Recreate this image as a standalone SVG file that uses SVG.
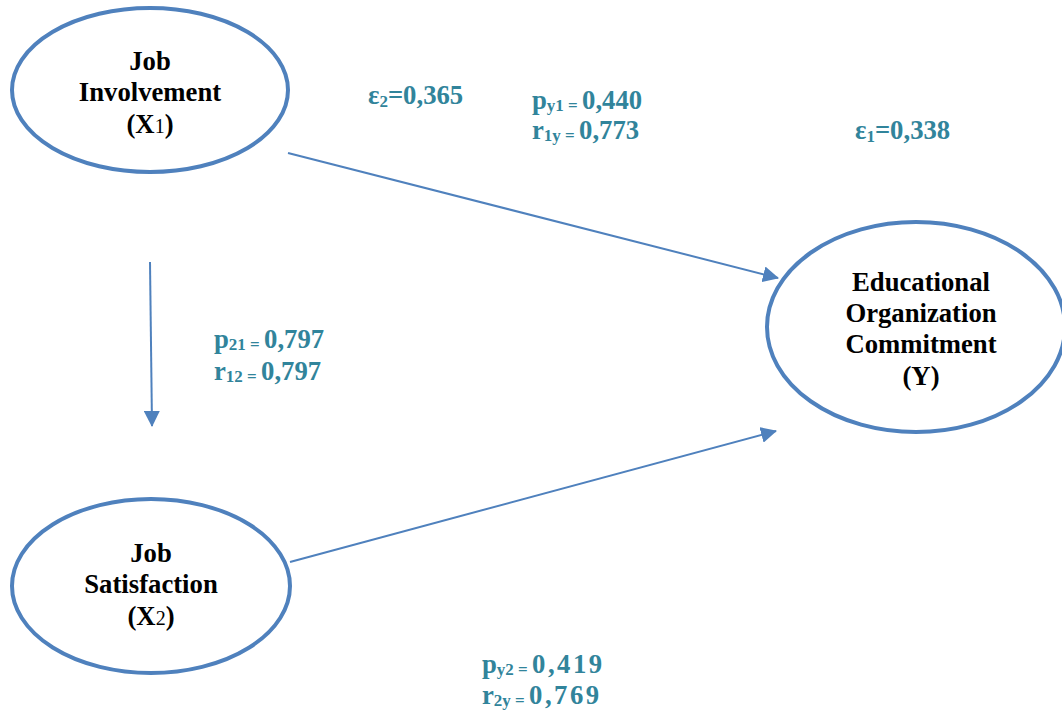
<svg xmlns="http://www.w3.org/2000/svg" width="1062" height="712" viewBox="0 0 1062 712">
<defs>
<marker id="ah" viewBox="0 0 16 16" refX="15" refY="8" markerWidth="16" markerHeight="16" markerUnits="userSpaceOnUse" orient="auto">
<path d="M0,0 L16,8 L0,16 z" fill="#4F81BD"/>
</marker>
<style>
.node{fill:#fff;stroke:#4F81BD;stroke-width:4}
.nt{font-family:"Liberation Serif",serif;font-weight:bold;font-size:26.7px;fill:#000;text-anchor:middle}
.sub{font-size:20px}
.lb{font-family:"Liberation Serif",serif;font-weight:bold;font-size:26.7px;fill:#31849B}
.ls{font-size:17px}
.wide{letter-spacing:2.5px}
.conn line{stroke:#4F81BD;stroke-width:2;marker-end:url(#ah)}
</style>
</defs>
<rect width="1062" height="712" fill="#fff"/>
<g class="conn">
<line x1="288" y1="153" x2="778" y2="278"/>
<line x1="150" y1="262" x2="152" y2="426"/>
<line x1="290" y1="562" x2="776" y2="431"/>
</g>
<g id="x1">
<ellipse class="node" cx="150" cy="90" rx="138" ry="82"/>
<text class="nt" x="150" y="70">Job</text>
<text class="nt" x="150" y="101">Involvement</text>
<text class="nt" x="150" y="133">(X<tspan class="sub" font-weight="normal">1</tspan>)</text>
</g>
<g id="x2">
<ellipse class="node" cx="151" cy="586" rx="139" ry="87"/>
<text class="nt" x="151" y="562">Job</text>
<text class="nt" x="151" y="593">Satisfaction</text>
<text class="nt" x="151" y="625">(X<tspan class="sub" font-weight="normal">2</tspan>)</text>
</g>
<g id="y">
<ellipse class="node" cx="916" cy="327" rx="149" ry="105"/>
<text class="nt" x="921" y="291">Educational</text>
<text class="nt" x="921" y="322">Organization</text>
<text class="nt" x="921" y="353">Commitment</text>
<text class="nt" x="921" y="385">(Y)</text>
</g>
<g id="labels">
<text class="lb" x="368" y="104">ε<tspan class="ls" dy="3">2</tspan><tspan dy="-3">=0,365</tspan></text>
<text class="lb" x="532" y="109">p<tspan class="ls" dy="2">y1 = </tspan><tspan dy="-2">0,440</tspan></text>
<text class="lb" x="532" y="139">r<tspan class="ls" dy="2">1y = </tspan><tspan dy="-2">0,773</tspan></text>
<text class="lb" x="855" y="139">ε<tspan class="ls" dy="3">1</tspan><tspan dy="-3">=0,338</tspan></text>
<text class="lb" x="214" y="348">p<tspan class="ls" dy="2">21 = </tspan><tspan dy="-2">0,797</tspan></text>
<text class="lb" x="214" y="380">r<tspan class="ls" dy="2">12 = </tspan><tspan dy="-2">0,797</tspan></text>
<text class="lb" x="482" y="673">p<tspan class="ls" dy="2">y2 = </tspan><tspan class="wide" dy="-2">0,419</tspan></text>
<text class="lb" x="482" y="704">r<tspan class="ls" dy="2">2y = </tspan><tspan class="wide" dy="-2">0,769</tspan></text>
</g>
</svg>
